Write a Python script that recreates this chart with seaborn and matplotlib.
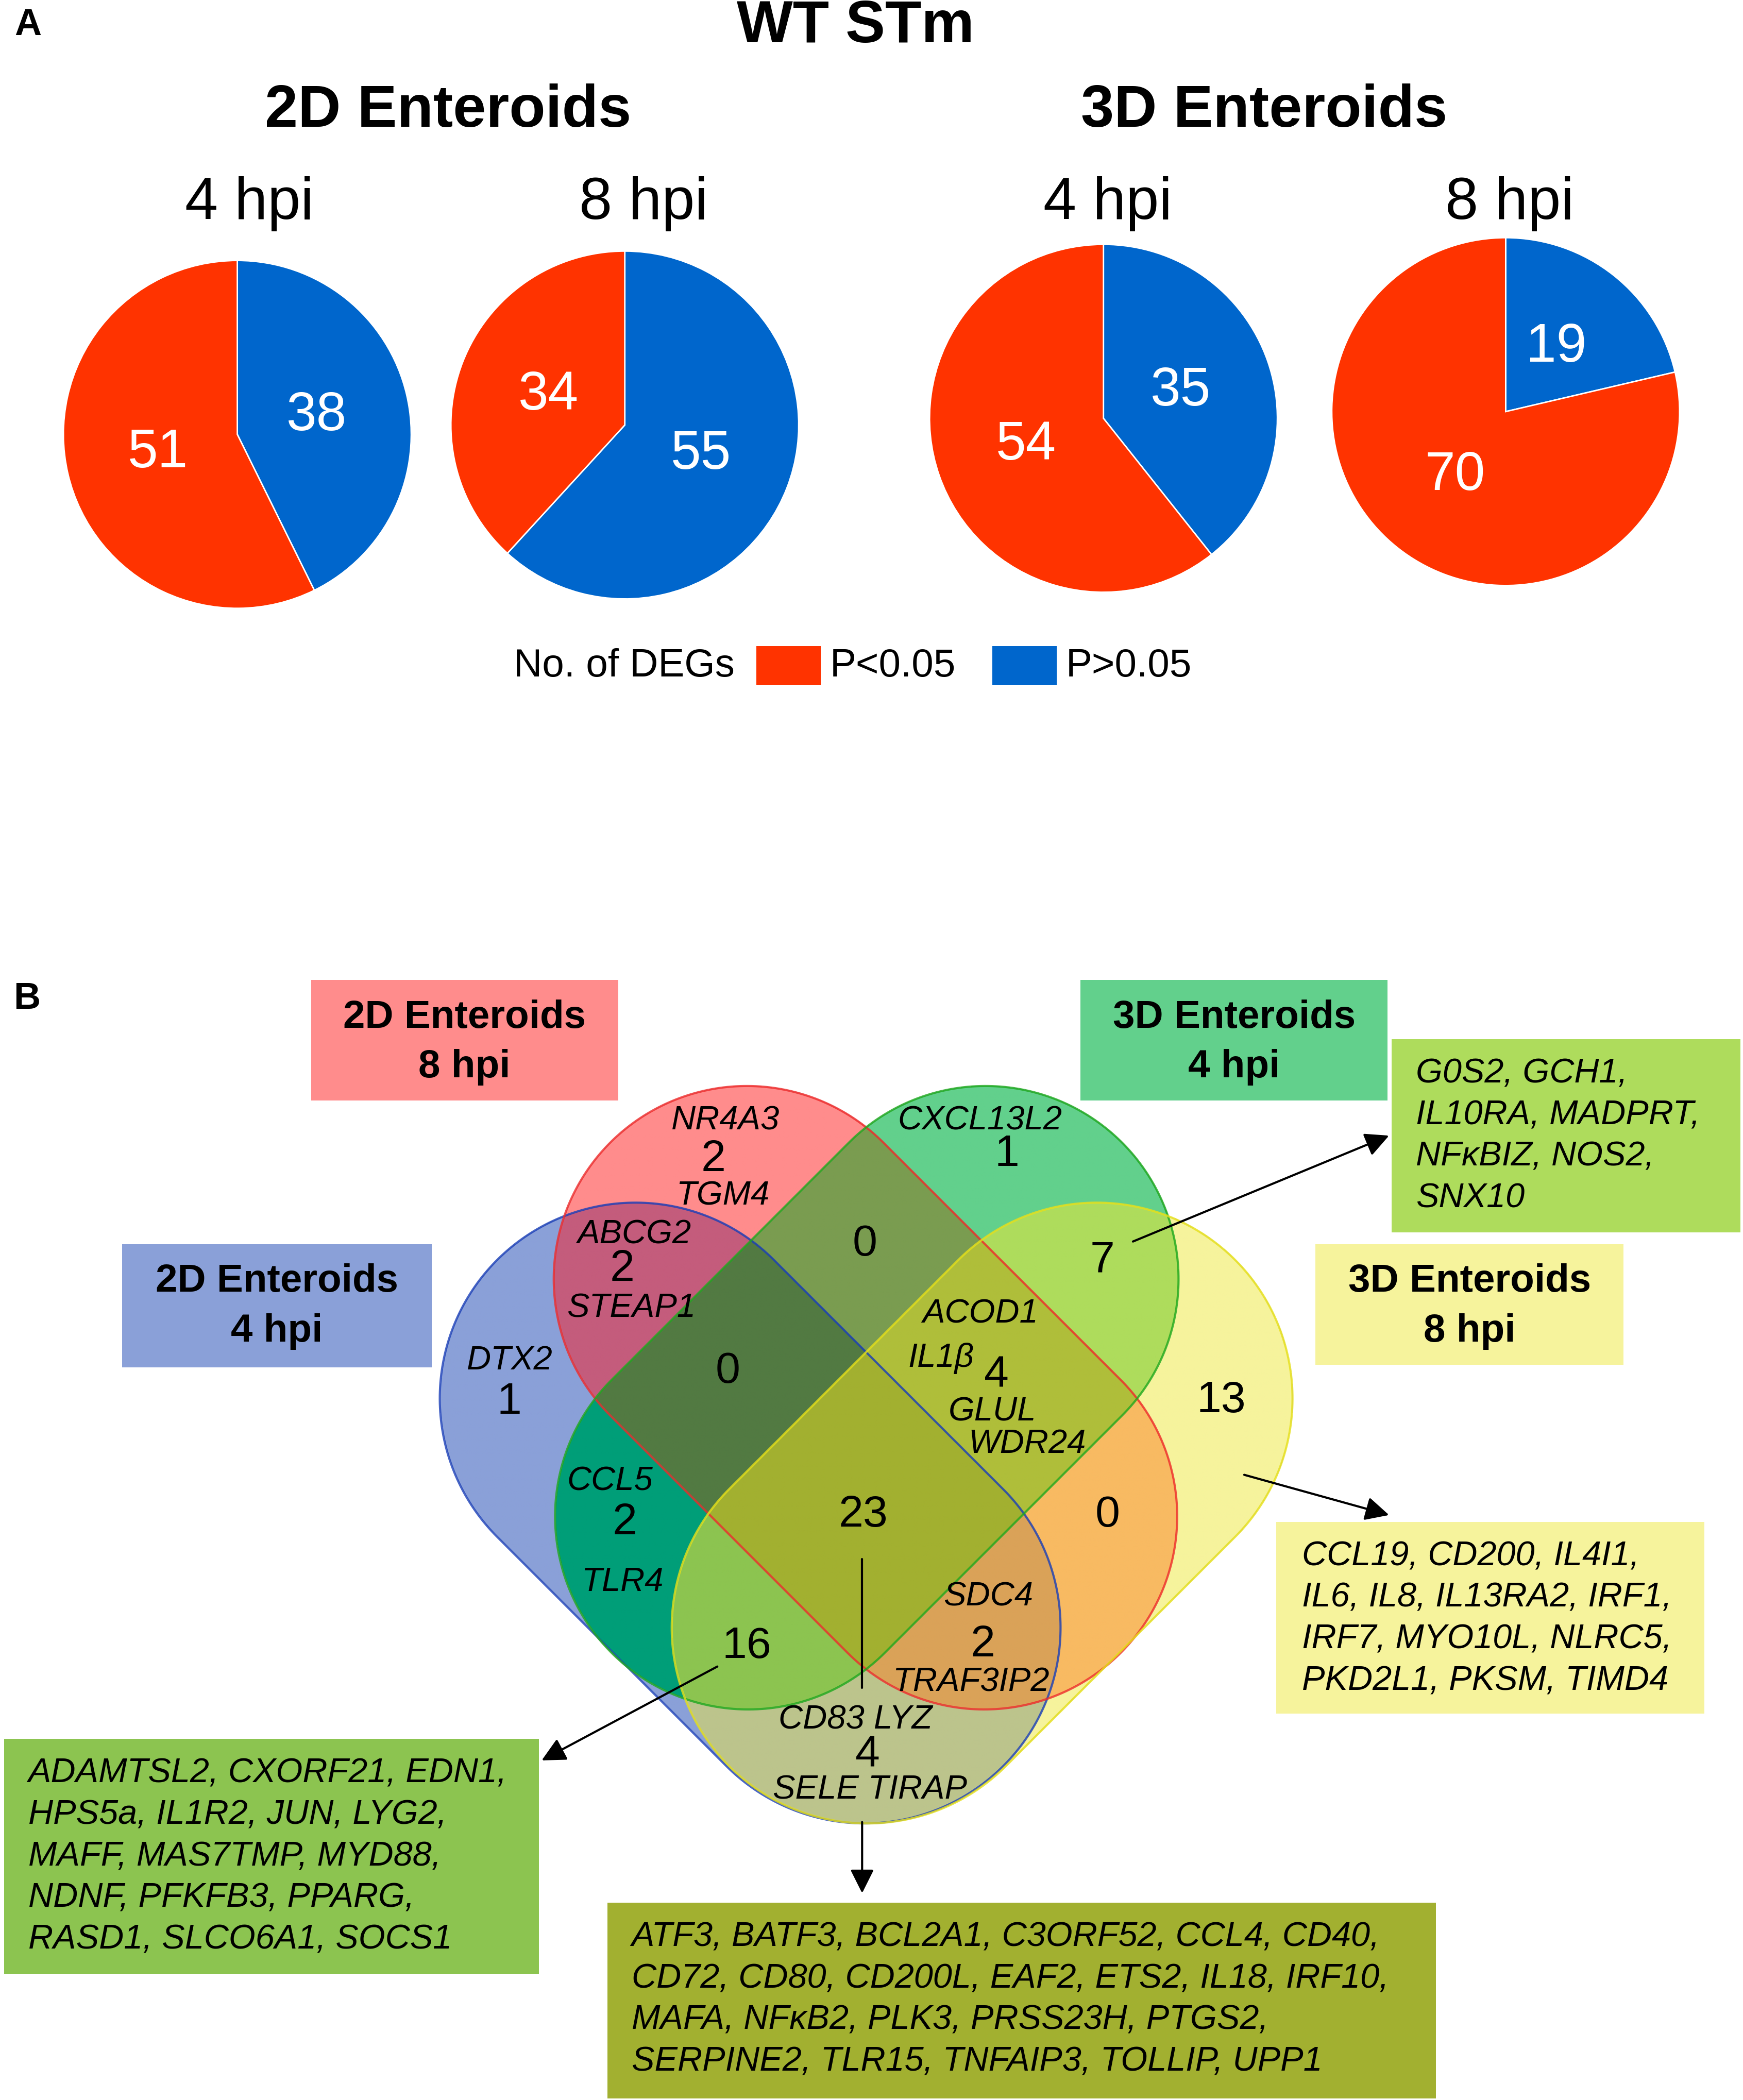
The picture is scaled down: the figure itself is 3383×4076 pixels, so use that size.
import numpy as np
import matplotlib
matplotlib.use("Agg")
import matplotlib.pyplot as plt
import seaborn as sns
from matplotlib.colors import to_rgba
from matplotlib.patches import Polygon, Rectangle

# ---------- DATA ----------
conditions = ["2D Enteroids", "3D Enteroids"]
timepoints = ["4 hpi", "8 hpi"]
degs_sig = [51, 34, 54, 70]       # P<0.05  (2D 4h, 2D 8h, 3D 4h, 3D 8h)
degs_nonsig = [38, 55, 35, 19]    # P>0.05
legend_title = "No. of DEGs"
legend_labels = ["P<0.05", "P>0.05"]

# venn sets: B = 2D 4 hpi, R = 2D 8 hpi, G = 3D 4 hpi, Y = 3D 8 hpi
venn_sets = {"B": "2D Enteroids\n4 hpi", "R": "2D Enteroids\n8 hpi",
             "G": "3D Enteroids\n4 hpi", "Y": "3D Enteroids\n8 hpi"}
venn_counts = {"B": 1, "R": 2, "G": 1, "Y": 13, "BR": 2, "RG": 0, "GY": 7,
               "BG": 2, "RY": 0, "BRG": 0, "RGY": 4, "BGY": 16, "BRY": 2,
               "BY": 4, "BRGY": 23}
venn_genes = {"B": ["DTX2"], "R": ["NR4A3", "TGM4"], "G": ["CXCL13L2"],
              "BR": ["ABCG2", "STEAP1"], "BG": ["CCL5", "TLR4"],
              "RGY": ["ACOD1", "IL1β", "GLUL", "WDR24"],
              "BRY": ["SDC4", "TRAF3IP2"], "BY": ["CD83 LYZ", "SELE TIRAP"]}

genes_GY = ["G0S2, GCH1,", "IL10RA, MADPRT,", "NFκBIZ, NOS2,", "SNX10"]
genes_Y = ["CCL19, CD200, IL4I1,", "IL6, IL8, IL13RA2, IRF1,",
           "IRF7, MYO10L, NLRC5,", "PKD2L1, PKSM, TIMD4"]
genes_BGY = ["ADAMTSL2, CXORF21, EDN1,", "HPS5a, IL1R2, JUN, LYG2,",
             "MAFF, MAS7TMP, MYD88,", "NDNF, PFKFB3, PPARG,",
             "RASD1, SLCO6A1, SOCS1"]
genes_BRGY = ["ATF3, BATF3, BCL2A1, C3ORF52, CCL4, CD40,",
              "CD72, CD80, CD200L, EAF2, ETS2, IL18, IRF10,",
              "MAFA, NFκB2, PLK3, PRSS23H, PTGS2,",
              "SERPINE2, TLR15, TNFAIP3, TOLLIP, UPP1"]

# ---------- STYLE ----------
sns.set_theme(style="white")
plt.rcParams['font.family'] = ['Liberation Sans', 'DejaVu Sans']
plt.rcParams['text.color'] = 'black'

RED = "#FF3300"
BLUE = "#0066CC"
region_colors = {"B": "#8AA0D8", "R": "#FF8C8C", "G": "#62D08C", "Y": "#F6F39C",
                 "BR": "#C45C7C", "BG": "#009E78", "BY": "#BCC48C",
                 "RG": "#7A9C50", "RY": "#F8BA62", "GY": "#AEDC5C",
                 "BRG": "#527A42", "BRY": "#DAA258", "BGY": "#8CC450",
                 "RGY": "#AFBE3A", "BRGY": "#A2B030"}
edge_colors = {"B": "#1A3FB8", "R": "#EE2B2B", "G": "#1EA81E", "Y": "#E6E01A"}

W, H = 1300.0, 4076 / (3383 / 1300.0)

fig = plt.figure(figsize=(33.83, 40.76), dpi=100)
ax = fig.add_axes([0, 0, 1, 1])

# ---------- PANEL A: PIES ----------
ax.text(21, 19, "A", fontsize=52, fontweight="bold", ha="center", va="center")
ax.text(638, 20, "WT STm", fontsize=83, fontweight="bold", ha="center", va="center")
for name, x in zip(conditions, [334, 943]):
    ax.text(x, 83, name, fontsize=83, fontweight="bold", ha="center", va="center")

pie_centers = [(177, 324), (466, 317), (823, 312), (1123, 307)]
title_x = [186, 480, 826, 1126]
r = 131
for i, (cx, cy) in enumerate(pie_centers):
    pax = fig.add_axes([(cx - r) / W, 1 - (cy + r) / H, 2 * r / W, 2 * r / H])
    vals = [degs_nonsig[i], degs_sig[i]]
    tot = sum(vals)
    pax.pie(vals, colors=[BLUE, RED], startangle=90, counterclock=False,
            autopct=lambda p, t=tot: f"{round(p * t / 100)}", pctdistance=0.47,
            wedgeprops=dict(edgecolor="white", linewidth=2),
            textprops=dict(color="white", fontsize=76))
    pax.set_xlim(-1.01, 1.01)
    pax.set_ylim(-1.01, 1.01)
    ax.text(title_x[i], 152, timepoints[i % 2], fontsize=83, ha="center", va="center")

# legend
ax.text(548, 497, legend_title, fontsize=55, ha="right", va="center")
for col, lab, x in zip([RED, BLUE], legend_labels, [564, 740]):
    ax.add_patch(Rectangle((x, 482), 48, 29, facecolor=col, edgecolor="none"))
    ax.text(x + 55, 497, lab, fontsize=55, ha="left", va="center")

# ---------- PANEL B: VENN ----------
ax.text(20, 745, "B", fontsize=52, fontweight="bold", ha="center", va="center")

capsules = {"B": ((474, 1043), (645, 1214), 146),
            "R": ((557, 954), (734, 1131), 144),
            "G": ((735, 954), (558, 1131), 144),
            "Y": ((818, 1043), (647, 1214), 146)}

xs = np.arange(300, 990, 0.4)
ys = np.arange(790, 1380, 0.4)
X, Y = np.meshgrid(xs, ys)


def inside(c1, c2, rad):
    dx, dy = c2[0] - c1[0], c2[1] - c1[1]
    t = np.clip(((X - c1[0]) * dx + (Y - c1[1]) * dy) / (dx * dx + dy * dy), 0, 1)
    return (X - c1[0] - t * dx) ** 2 + (Y - c1[1] - t * dy) ** 2 <= rad * rad


bits = {"B": 8, "R": 4, "G": 2, "Y": 1}
code = sum(inside(*capsules[k]).astype(int) * b for k, b in bits.items())
lut = np.zeros((16, 4))
for key, col in region_colors.items():
    lut[sum(bits[c] for c in key)] = to_rgba(col)
ax.imshow(lut[code], extent=(xs[0], xs[-1], ys[-1], ys[0]), origin="upper",
          interpolation="antialiased", aspect="auto", zorder=1)


def capsule_outline(c1, c2, rad, n=150):
    a = np.arctan2(c2[1] - c1[1], c2[0] - c1[0])
    t2 = np.linspace(a - np.pi / 2, a + np.pi / 2, n)
    t1 = np.linspace(a + np.pi / 2, a + 3 * np.pi / 2, n)
    p2 = np.c_[c2[0] + rad * np.cos(t2), c2[1] + rad * np.sin(t2)]
    p1 = np.c_[c1[0] + rad * np.cos(t1), c1[1] + rad * np.sin(t1)]
    return np.vstack([p2, p1])


for k in ["B", "R", "G", "Y"]:
    ax.add_patch(Polygon(capsule_outline(*capsules[k]), closed=True, fill=False,
                         edgecolor=edge_colors[k], linewidth=3, alpha=0.8, zorder=2))

count_pos = {"B": (380, 1046), "R": (532, 865), "G": (751, 861), "Y": (911, 1045),
             "BR": (464, 947), "RG": (645, 928), "GY": (822, 940), "BG": (466, 1136),
             "RY": (826, 1130), "BRG": (543, 1023), "RGY": (743, 1026),
             "BGY": (557, 1228), "BRY": (733, 1227), "BY": (647, 1309),
             "BRGY": (644, 1130)}
gene_pos = {"B": [(380, 1015)], "R": [(541, 836), (539, 892)], "G": [(731, 836)],
            "BR": [(473, 921), (471, 976)], "BG": [(455, 1105), (464, 1180)],
            "RGY": [(731, 980), (702, 1013), (740, 1053), (766, 1077)],
            "BRY": [(737, 1191), (724, 1255)],
            "BY": [(638, 1283), (649, 1335)]}
for key, n in venn_counts.items():
    x, y = count_pos[key]
    ax.text(x, y, str(n), fontsize=62, ha="center", va="center", zorder=3)
for key, genes in venn_genes.items():
    for g, (x, y) in zip(genes, gene_pos[key]):
        ax.text(x, y, g, fontsize=47, style="italic", ha="center", va="center", zorder=3)

# set name boxes
set_boxes = {"R": (232, 731, 229, 90), "G": (806, 731, 229, 90),
             "B": (91, 928, 231, 92), "Y": (981, 928, 230, 90)}
for k, (x, y, w, h) in set_boxes.items():
    ax.add_patch(Rectangle((x, y), w, h, facecolor=region_colors[k], edgecolor="none"))
    l1, l2 = venn_sets[k].split("\n")
    ax.text(x + w / 2, y + 28, l1, fontsize=55, fontweight="bold", ha="center", va="center")
    ax.text(x + w / 2, y + 65, l2, fontsize=55, fontweight="bold", ha="center", va="center")

# gene list boxes
list_boxes = [(genes_GY, "GY", (1038, 775, 260, 144), (1056, 801), 31),
              (genes_Y, "Y", (952, 1135, 319, 143), (971, 1161), 31),
              (genes_BGY, "BGY", (3, 1297, 399, 175), (21, 1323), 31),
              (genes_BRGY, "BRGY", (453, 1419, 618, 146), (471, 1445), 31)]
for lines, key, (x, y, w, h), (tx, ty), step in list_boxes:
    ax.add_patch(Rectangle((x, y), w, h, facecolor=region_colors[key], edgecolor="none"))
    for j, line in enumerate(lines):
        ax.text(tx, ty + j * step, line, fontsize=48, style="italic", ha="left", va="center")

# arrows
arrow_kw = dict(arrowstyle="-|>", mutation_scale=70, lw=3, color="black",
                shrinkA=0, shrinkB=0)
for (x0, y0), (x1, y1) in [((845, 926), (1036, 847)), ((928, 1100), (1036, 1130)),
                           ((535, 1243), (404, 1313)), ((643, 1359), (643, 1412))]:
    ax.annotate("", xy=(x1, y1), xytext=(x0, y0), arrowprops=arrow_kw, zorder=4)
ax.plot([643, 643], [1163, 1259], color="black", lw=3, zorder=4)

ax.set_xlim(0, W)
ax.set_ylim(H, 0)
ax.axis("off")

fig.savefig("out.png", dpi=100, facecolor="white")
